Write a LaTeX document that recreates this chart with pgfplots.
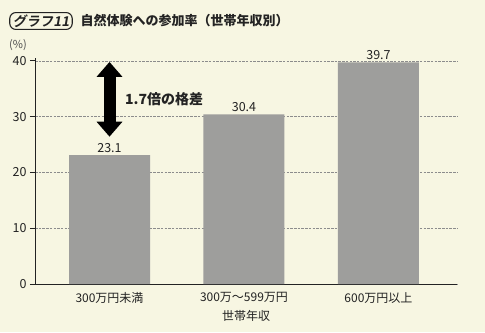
\documentclass[border=0pt]{standalone}
\usepackage{fontspec}
\setmainfont{Noto Sans CJK JP}
\newfontfamily\slbold[FakeSlant=0.18]{Noto Sans CJK JP Bold}
\usepackage{pgfplots}
\pgfplotsset{compat=1.18}
\usetikzlibrary{arrows.meta}
\definecolor{bg}{RGB}{247,246,226}
\definecolor{barg}{RGB}{158,158,156}
\definecolor{txt}{RGB}{35,35,35}
\begin{document}
\begin{tikzpicture}[x=1bp,y=1bp]
\fill[bg] (0,0) rectangle (485,332);
\useasboundingbox (0,0) rectangle (485,332);
\node[draw=txt, line width=1.1bp, rounded corners=6bp, inner xsep=3bp, inner ysep=2bp, font=\slbold\fontsize{13.5bp}{16bp}\selectfont, text=txt] at (41,311) {グラフ11};
\node[anchor=west, font=\bfseries\fontsize{13bp}{16bp}\selectfont, text=txt] at (77,311) {自然体験への参加率（世帯年収別）};
\node[font=\fontsize{11bp}{13bp}\selectfont, text=txt!80] at (18,287) {(\%)};
\begin{axis}[
  at={(35bp,48bp)}, anchor=south west, scale only axis, width=422bp, height=226bp,
  xmin=-0.554, xmax=2.584, ymin=0, ymax=40.5,
  axis x line=bottom, axis y line=left,
  axis line style={-, draw=txt, line width=0.9bp},
  ytick={0,10,20,30,40}, xtick={0,1,2},
  xticklabels={300万円未満,300万～599万円,600万円以上},
  x tick style={draw=none},
  y tick style={draw=txt, line width=0.8bp},
  tick align=outside, major tick length=5bp,
  ymajorgrids, grid style={dash pattern=on 2.5bp off 1.2bp, gray!90, line width=0.5bp},
  /pgf/number format/assume math mode=true,
  ticklabel style={font=\fontsize{12.5bp}{14bp}\selectfont, text=txt},
  xticklabel style={font=\fontsize{12bp}{14bp}\selectfont},
  xlabel={世帯年収}, xlabel style={font=\fontsize{12bp}{14bp}\selectfont, text=txt},
  ybar, bar width=81bp,
  nodes near coords={\pgfmathprintnumber[fixed,fixed zerofill,precision=1,assume math mode=true]{\pgfplotspointmeta}},
  nodes near coords style={font=\fontsize{12.5bp}{14bp}\selectfont, text=txt, inner sep=2.5bp},
]
\addplot[fill=barg, draw=none] coordinates {(0,23.1) (1,30.4) (2,39.7)};
\draw[line width=12bp, draw=black, {Triangle[width=25bp,length=15bp]}-{Triangle[width=25bp,length=15bp]}] (axis cs:0,26.4) -- (axis cs:0,39.8);
\node[anchor=west, font=\bfseries\fontsize{14bp}{16bp}\selectfont, text=txt] at (axis cs:0.09,33.2) {1.7倍の格差};
\end{axis}
\end{tikzpicture}
\end{document}
